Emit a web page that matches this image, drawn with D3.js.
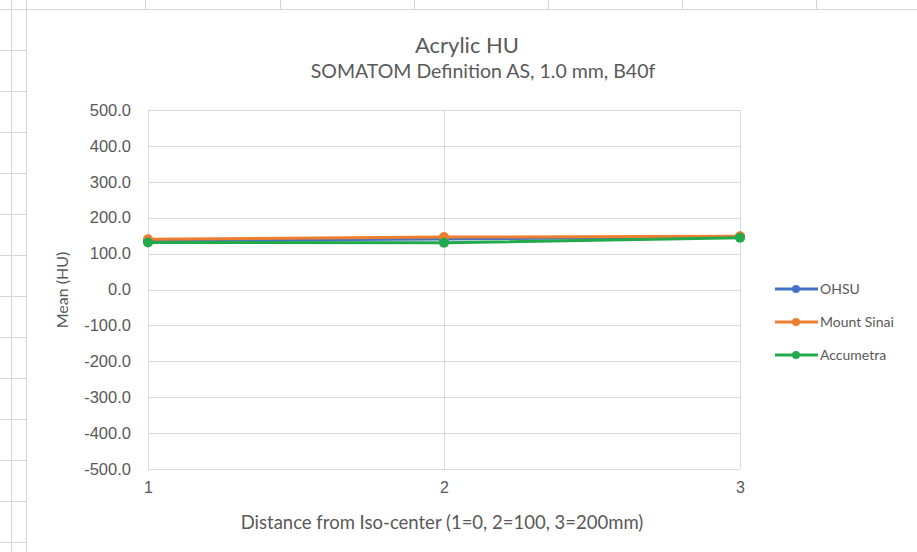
<!DOCTYPE html>
<html>
<head>
<meta charset="utf-8">
<script src="https://cdn.jsdelivr.net/npm/d3@7"></script>
<style>
  body { margin: 0; background: #fff; }
  svg { display: block; font-family: Lato, "Open Sans", sans-serif; }
</style>
</head>
<body>
<div id="chart"></div>
<script>
// chart values
const positions = [1, 2, 3];
const yTicks = [-500, -400, -300, -200, -100, 0, 100, 200, 300, 400, 500];
const ohsu = [136, 141, 147];
const mountSinai = [140, 146, 148];
const accumetra = [131, 130, 144];
const seriesNames = ["OHSU", "Mount Sinai", "Accumetra"];
const seriesColors = ["#4472c4", "#ed7d31", "#22a94c"];

const W = 917, H = 552;
const textColor = "#595959";
const svg = d3.select("#chart").append("svg").attr("width", W).attr("height", H);

// spreadsheet cells behind the chart
const sheet = svg.append("g").attr("stroke", "#d6d6d6").attr("stroke-width", 1);
[11.5, 26.5].forEach(x => sheet.append("line").attr("x1", x).attr("x2", x).attr("y1", 0).attr("y2", H));
[145.5, 280.5, 414.5, 548.5, 682.5, 816.5].forEach(x => sheet.append("line").attr("x1", x).attr("x2", x).attr("y1", 0).attr("y2", 9));
d3.range(9, H, 41).forEach(y => sheet.append("line").attr("x1", 0).attr("x2", y === 9 ? W : 26).attr("y1", y + 0.5).attr("y2", y + 0.5));

const margin = { left: 148, right: 177, top: 110, bottom: 83 };
const width = W - margin.left - margin.right;
const height = H - margin.top - margin.bottom;

const g = svg.append("g").attr("transform", `translate(${margin.left}, ${margin.top})`);

const x = d3.scaleLinear().domain([1, 3]).range([0, width]);
const y = d3.scaleLinear().domain([-500, 500]).range([height, 0]);

// grid
g.append("g").selectAll("line").data(yTicks).join("line")
  .attr("x1", 0).attr("x2", width)
  .attr("y1", d => Math.round(y(d)) + 0.5).attr("y2", d => Math.round(y(d)) + 0.5)
  .attr("stroke", "#d9d9d9");
g.append("g").selectAll("line").data(positions).join("line")
  .attr("x1", d => Math.round(x(d)) + 0.5).attr("x2", d => Math.round(x(d)) + 0.5)
  .attr("y1", 0).attr("y2", height)
  .attr("stroke", "#d9d9d9");

// axes (plain hyphen for negatives, like the spreadsheet)
const yAxis = g.append("g")
  .call(d3.axisLeft(y).tickValues(yTicks).tickSize(0).tickPadding(17).tickFormat(d => d.toFixed(1)));
yAxis.select(".domain").remove();
yAxis.selectAll("text").attr("fill", textColor).style("font-size", "16.5px");

const xAxis = g.append("g").attr("transform", `translate(0, ${height})`)
  .call(d3.axisBottom(x).tickValues(positions).tickSize(0).tickPadding(13).tickFormat(d3.format("d")));
xAxis.select(".domain").remove();
xAxis.selectAll("text").attr("fill", textColor).style("font-size", "16px");

// series
const series = [ohsu, mountSinai, accumetra].map((vals, i) => ({
  name: seriesNames[i], color: seriesColors[i],
  values: vals.map((v, j) => ({ p: positions[j], v: v }))
}));

const line = d3.line().x(d => x(d.p)).y(d => y(d.v));

series.forEach(s => {
  g.append("path").datum(s.values)
    .attr("fill", "none").attr("stroke", s.color).attr("stroke-width", 3)
    .attr("d", line);
  g.append("g").selectAll("circle").data(s.values).join("circle")
    .attr("cx", d => x(d.p)).attr("cy", d => y(d.v)).attr("r", 5)
    .attr("fill", s.color);
});

// titles
svg.append("text").attr("x", 467).attr("y", 53).attr("text-anchor", "middle")
  .style("font-size", "22px").attr("fill", textColor).text("Acrylic HU");
svg.append("text").attr("x", 483).attr("y", 78).attr("text-anchor", "middle")
  .style("font-size", "19.5px").attr("fill", textColor).text("SOMATOM Definition AS, 1.0 mm, B40f");
svg.append("text").attr("transform", "translate(68, 290) rotate(-90)").attr("text-anchor", "middle")
  .style("font-size", "16px").attr("fill", textColor).text("Mean (HU)");
svg.append("text").attr("x", 442).attr("y", 529).attr("text-anchor", "middle")
  .style("font-size", "18.5px").attr("fill", textColor).text("Distance from Iso-center (1=0, 2=100, 3=200mm)");

// legend
const legend = svg.append("g").attr("transform", "translate(775, 289)");
series.forEach((s, i) => {
  const row = legend.append("g").attr("transform", `translate(0, ${i * 33})`);
  row.append("line").attr("x1", 0).attr("x2", 43).attr("stroke", s.color).attr("stroke-width", 3);
  row.append("circle").attr("cx", 21).attr("r", 4).attr("fill", s.color);
  row.append("text").attr("x", 45).attr("dy", "0.35em").style("font-size", "14px")
    .attr("fill", textColor).text(s.name);
});
</script>
</body>
</html>
